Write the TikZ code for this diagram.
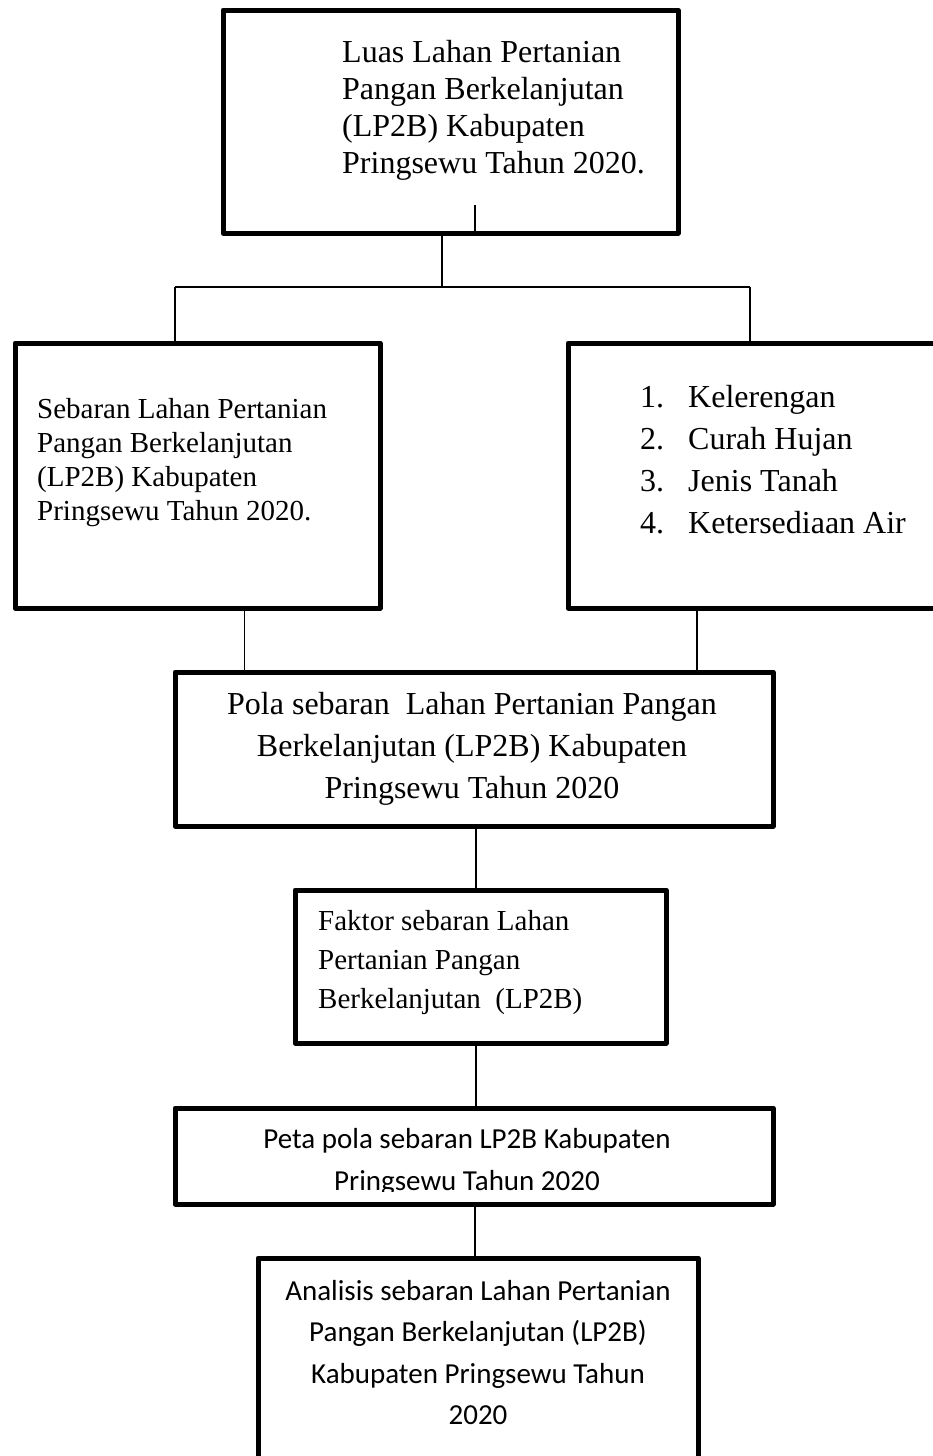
\documentclass[tikz,border=0pt]{standalone}
\usepackage{fontspec}
\setmainfont{Liberation Serif}
\newfontfamily\calibri{Carlito}
\newcommand{\num}[1]{\makebox[48pt][l]{#1}}

\begin{document}
\begin{tikzpicture}[x=1pt,y=-1pt,
    box/.style={draw,line width=5pt,line join=round,rectangle,inner sep=0pt,outer sep=0pt,anchor=north west},
    link/.style={line width=1.5pt},
    txt/.style={anchor=base west,align=left,inner sep=0pt}]
  \useasboundingbox (0,0) rectangle (933,1456);
  \clip (0,0) rectangle (933,1456);
  % boxes
  \node[box,minimum width=455pt,minimum height=223pt] (luas) at (223,10) {};
  \node[box,minimum width=365pt,minimum height=265pt] (sebaran) at (15,343) {};
  \node[box,minimum width=392pt,minimum height=265pt] (fisik) at (568,343) {};
  \node[box,minimum width=598pt,minimum height=154pt] (pola) at (175,672) {};
  \node[box,minimum width=371pt,minimum height=153pt] (faktor) at (295,890) {};
  \node[box,minimum width=598pt,minimum height=96pt] (peta) at (175,1108) {};
  \node[box,minimum width=440pt,minimum height=230pt] (analisis) at (258,1258) {};
  % texts (placed at the baseline of the last line)
  \node[txt,font=\fontsize{32}{37}\selectfont] (luas-t) at (342,173)
    {Luas Lahan Pertanian\\Pangan Berkelanjutan\\(LP2B) Kabupaten\\Pringsewu Tahun 2020.};
  \node[txt,font=\fontsize{29}{33.7}\selectfont] (sebaran-t) at (37,520)
    {Sebaran Lahan Pertanian\\Pangan Berkelanjutan\\(LP2B) Kabupaten\\Pringsewu Tahun 2020.};
  \node[txt,font=\fontsize{32}{42}\selectfont] (fisik-t) at (640,533)
    {\num{1.}Kelerengan\\\num{2.}Curah Hujan\\\num{3.}Jenis Tanah\\\num{4.}Ketersediaan Air};
  \node[txt,anchor=base,align=center,font=\fontsize{32}{42}\selectfont] (pola-t) at (472,798)
    {Pola sebaran\ \ Lahan Pertanian Pangan\\Berkelanjutan (LP2B) Kabupaten\\Pringsewu Tahun 2020};
  \node[txt,font=\fontsize{29}{39}\selectfont] (faktor-t) at (318,1008)
    {Faktor sebaran Lahan\\Pertanian Pangan\\Berkelanjutan\ \ (LP2B)};
  \begin{scope}
    \clip (peta.north west) rectangle ([yshift=13pt]peta.south east);
    \node[txt,anchor=base,align=center,font=\calibri\fontsize{29}{42}\selectfont] (peta-t) at (467,1190)
      {Peta pola sebaran LP2B Kabupaten\\Pringsewu Tahun 2020};
  \end{scope}
  \node[txt,anchor=base,align=center,font=\calibri\fontsize{29}{41.5}\selectfont] (analisis-t) at (478,1424.5)
    {Analisis sebaran Lahan Pertanian\\Pangan Berkelanjutan (LP2B)\\Kabupaten Pringsewu Tahun\\2020};
  % connectors
  \coordinate (busL) at (175,287);
  \coordinate (busM) at (442,287);
  \coordinate (busR) at (750,287);
  \coordinate (stub) at (475,205);
  \draw[link] (stub) -- (stub |- luas.south);
  \draw[link] (luas.south -| busM) -- (busM);
  \draw[link] (busL) -- (busR);
  \draw[link] (busL) -- (sebaran.north -| busL);
  \draw[link] (busR) -- (fisik.north -| busR);
  \draw[link] ([xshift=47pt]sebaran.south) -- ([xshift=47pt]sebaran.south |- pola.north);
  \draw[link] ([xshift=-67pt]fisik.south) -- ([xshift=-67pt]fisik.south |- pola.north);
  \draw[link] ([xshift=2pt]pola.south) -- ([xshift=2pt]pola.south |- faktor.north);
  \draw[link] ([xshift=2pt]peta.north) -- ([xshift=2pt]peta.north |- faktor.south);
  \draw[link] ([xshift=1pt]peta.south) -- ([xshift=1pt]peta.south |- analisis.north);
\end{tikzpicture}
\end{document}
